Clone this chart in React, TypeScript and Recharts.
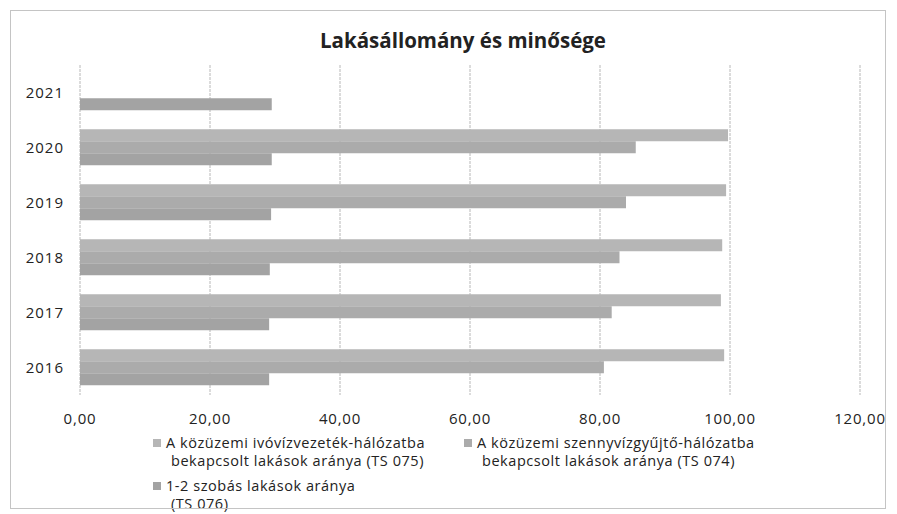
import React from 'react';
import { BarChart, Bar, XAxis, YAxis, CartesianGrid, Legend } from 'recharts';

const years = ['2016', '2017', '2018', '2019', '2020', '2021'];
const ivoviz: (number | null)[] = [99.1, 98.6, 98.8, 99.4, 99.7, null];
const szennyviz: (number | null)[] = [80.6, 81.8, 83.0, 84.0, 85.5, null];
const szobas: number[] = [29.1, 29.1, 29.2, 29.4, 29.5, 29.5];
const xTicks = [0, 20, 40, 60, 80, 100, 120];

const seriesNames = [
  'A közüzemi ivóvízvezeték-hálózatba bekapcsolt lakások aránya (TS 075)',
  'A közüzemi szennyvízgyűjtő-hálózatba bekapcsolt lakások aránya (TS 074)',
  '1-2 szobás lakások aránya (TS 076)',
];
const colors = ['#b6b6b6', '#ababab', '#a3a3a3'];

const data = years.map((y, i) => ({
  year: y,
  ivoviz: ivoviz[i],
  szennyviz: szennyviz[i],
  szobas: szobas[i],
}));

const FONT = '"Open Sans", "DejaVu Sans", sans-serif';

const LegendContent = () => {
  const items = [
    { left: 151, top: 434, lines: ['A közüzemi ivóvízvezeték-hálózatba', 'bekapcsolt lakások aránya (TS 075)'], c: colors[0] },
    { left: 462, top: 434, lines: ['A közüzemi szennyvízgyűjtő-hálózatba', 'bekapcsolt lakások aránya (TS 074)'], c: colors[1] },
    { left: 151, top: 477, lines: ['1-2 szobás lakások aránya', '(TS 076)'], c: colors[2] },
  ];
  return (
    <div style={{ position: 'relative', width: 897, height: 80 }}>
      {items.map((it, i) => (
        <div key={i} style={{ position: 'absolute', left: it.left, top: it.top - 432, fontFamily: FONT, fontSize: 14.5, letterSpacing: 0.55, color: '#222', lineHeight: '18px' }}>
          <span style={{ position: 'absolute', left: 2, top: 5, width: 8, height: 8, background: it.c }} />
          <div style={{ marginLeft: 15, whiteSpace: 'nowrap' }}>
            <div style={{ height: 18 }}>{it.lines[0]}</div>
            <div style={{ height: 18, marginLeft: 5 }}>{it.lines[1]}</div>
          </div>
        </div>
      ))}
    </div>
  );
};

export default function App() {
  return (
    <div style={{ position: 'absolute', left: 0, top: 0, width: 897, height: 514, background: '#fff', overflow: 'hidden' }}>
      <div style={{ position: 'absolute', left: 0, top: 0 }}>
        <BarChart
          width={897}
          height={514}
          data={data}
          layout="vertical"
          margin={{ top: 65, right: 37, bottom: 89, left: 0 }}
          barCategoryGap="17%"
          barGap={0}
        >
          <CartesianGrid horizontal={false} vertical={true} stroke="#b8b8b8" strokeDasharray="3 1" />
          <XAxis
            type="number"
            domain={[0, 120]}
            ticks={xTicks}
            tickFormatter={(v: number) => v.toFixed(2).replace('.', ',')}
            axisLine={false}
            tickLine={false}
            tickSize={0}
            tickMargin={18}
            tick={{ fontFamily: FONT, fontSize: 15, fill: '#222', letterSpacing: 0.8 }}
            interval={0}
          />
          <YAxis
            type="category"
            dataKey="year"
            reversed
            width={80}
            axisLine={false}
            tickLine={false}
            tickSize={0}
            tickMargin={16}
            tick={{ fontFamily: FONT, fontSize: 15, fill: '#222', letterSpacing: 1 }}
          />
          <Legend layout="vertical" align="center" verticalAlign="middle" wrapperStyle={{ left: 0, top: 432, width: 897, height: 80 }} content={<LegendContent />} />
          <Bar dataKey="ivoviz" name={seriesNames[0]} fill={colors[0]} isAnimationActive={false} />
          <Bar dataKey="szennyviz" name={seriesNames[1]} fill={colors[1]} isAnimationActive={false} />
          <Bar dataKey="szobas" name={seriesNames[2]} fill={colors[2]} isAnimationActive={false} />
        </BarChart>
      </div>
      <div style={{ position: 'absolute', left: 10, top: 10, width: 876, height: 499, border: '1px solid #c4c4c4', boxSizing: 'border-box', pointerEvents: 'none' }} />
      <div style={{ position: 'absolute', left: 0, top: 26, width: 926, textAlign: 'center', fontFamily: FONT, fontWeight: 700, fontSize: 20.5, color: '#222' }}>
        Lakásállomány és minősége
      </div>
    </div>
  );
}
